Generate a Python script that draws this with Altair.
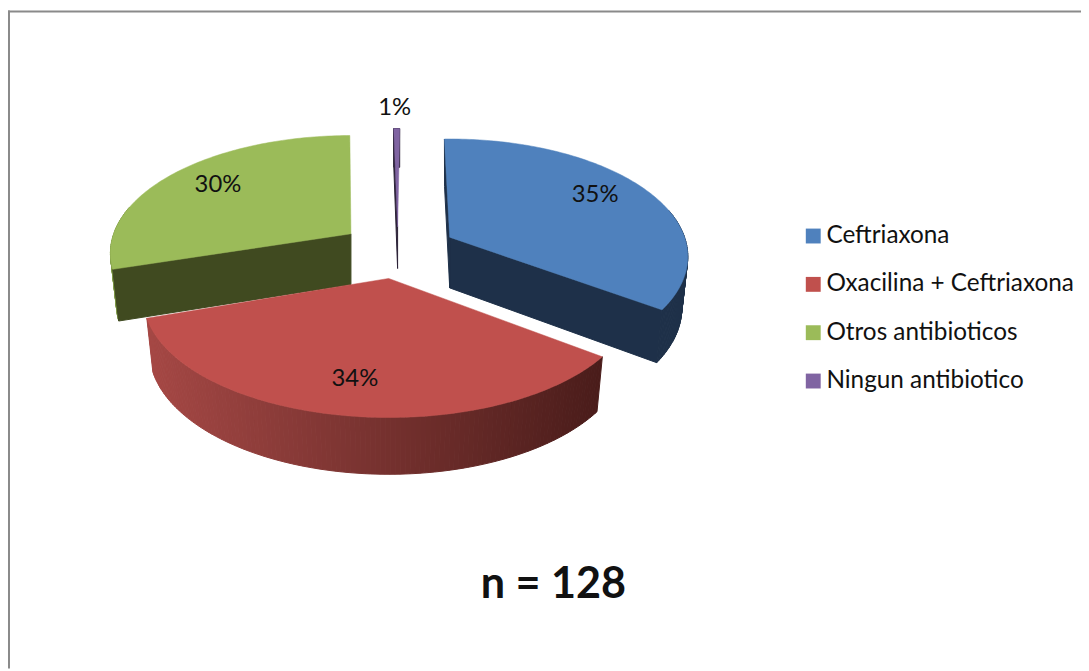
import math
import altair as alt

CATEGORIES = ["Ceftriaxona", "Oxacilina + Ceftriaxona", "Otros antibioticos", "Ningun antibiotico"]
COUNTS = [45, 44, 38, 1]
COLORS = ["#4f81bd", "#c0504d", "#9bbb59", "#8064a2"]
WALL_LEFT = ["#1e3049", "#a54845", "#7f9a48", "#2a2136"]
WALL_RIGHT = ["#1e3049", "#4a1c1a", "#404a20", "#2a2136"]
NOTE = "n = 128"

# layout of the exploded perspective pie, page pixels
W, H = 1081, 663
DX = 3.5
APEX = [(449.5, 236.5), (388, 278), (350, 233), (397, 226)]
ROT = [-1.5, 0.8, 2.5, 1.0]
RX_SCALE = [0.99, 1.02, 1.0, 0.6]
RY_SCALE = [1.0, 1.015, 1.0, 1.0]
LABEL_POS = [(596, 194), (354, 379), (216, 184), (394, 106)]
WALL_H = [51, 53, 51, 42]
A, B, K = 239.0, 115.3, 0.1646
SX, SY = 0.975, 1.03


def rim(t_deg, i):
    t = math.radians(t_deg)
    w = 1 + K * math.cos(t)
    return (RX_SCALE[i] * A * math.sin(t) / w, -RY_SCALE[i] * B * math.cos(t) / w)


total = sum(COUNTS)
walls, tops, labels = [], [], []
acc = 0.0
pid = 0


def add_wall(points, color):
    global pid
    for k, (x, y) in enumerate(points):
        walls.append({"id": pid, "k": k, "x": x, "y": y, "c": color})
    pid += 1


for i, (cat, n) in enumerate(zip(CATEGORIES, COUNTS)):
    t0 = acc / total * 360 + ROT[i]
    t1 = (acc + n) / total * 360 + ROT[i]
    acc += n
    ax, ay = APEX[i]
    steps = max(4, int(t1 - t0))
    ts = [t0 + (t1 - t0) * s / steps for s in range(steps + 1)]
    top = [(ax + rim(t, i)[0], ay + rim(t, i)[1]) for t in ts]
    h = WALL_H[i]
    bottom = [(ax + SX * rim(t, i)[0], ay + h + SY * rim(t, i)[1]) for t in ts]
    xmin = min(p[0] for p in top)
    xmax = max(p[0] for p in top)
    c0 = [int(WALL_LEFT[i][j:j + 2], 16) for j in (1, 3, 5)]
    c1 = [int(WALL_RIGHT[i][j:j + 2], 16) for j in (1, 3, 5)]

    # rim walls, only those facing the viewer
    for s in range(steps):
        if math.cos(math.radians((ts[s] + ts[s + 1]) / 2)) < 0.25 or i == 3:
            u = ((top[s][0] + top[s + 1][0]) / 2 - xmin) / max(xmax - xmin, 1)
            color = "#%02x%02x%02x" % tuple(round(a + (b - a) * u) for a, b in zip(c0, c1))
            add_wall([top[s], top[s + 1], bottom[s + 1], bottom[s]], color)
    # cut walls
    apex_b = (ax, ay + h)
    if i == 0:
        add_wall([(ax, ay), top[steps], bottom[steps], apex_b], WALL_RIGHT[0])
        add_wall([(ax, ay), top[0], bottom[0], apex_b], WALL_RIGHT[0])
    if i >= 2:
        add_wall([(ax, ay), top[0], bottom[0], apex_b], WALL_RIGHT[i])

    poly = [(ax, ay)] + top
    for k, (x, y) in enumerate(poly):
        tops.append({"cat": cat, "k": k, "x": x, "y": y})
    lx, ly = LABEL_POS[i]
    labels.append({"x": lx, "y": ly, "t": f"{round(n / total * 100)}%"})

xs = alt.Scale(domain=[8 - DX, 8 - DX + W], range=[0, W])
ys = alt.Scale(domain=[8, 8 + H], range=[0, H])
X = alt.X("x:Q", scale=xs, axis=None)
Y = alt.Y("y:Q", scale=ys, axis=None)

wall_layer = alt.Chart(alt.Data(values=walls)).mark_line(strokeWidth=1, interpolate="linear-closed").encode(
    x=X, y=Y, order="k:Q", detail="id:N",
    fill=alt.Fill("c:N", scale=None), stroke=alt.Stroke("c:N", scale=None),
)
top_layer = alt.Chart(alt.Data(values=tops)).mark_line(strokeWidth=0.5, interpolate="linear-closed").encode(
    x=X, y=Y, order="k:Q",
    fill=alt.Fill(
        "cat:N",
        scale=alt.Scale(domain=CATEGORIES, range=COLORS),
        sort=CATEGORIES,
        legend=alt.Legend(
            title=None, orient="none", legendX=799, legendY=215,
            symbolType="square", symbolSize=225, symbolStrokeWidth=0,
            labelFont="Lato", labelFontSize=24.5, labelColor="#111111",
            labelOffset=1, rowPadding=23.7, labelLimit=300, padding=0,
        ),
    ),
    stroke=alt.Stroke("cat:N", scale=alt.Scale(domain=CATEGORIES, range=COLORS), legend=None),
)
label_layer = alt.Chart(alt.Data(values=labels)).mark_text(font="Lato", fontSize=24, color="#111111").encode(
    x=X, y=Y, text="t:N"
)
note_layer = alt.Chart(alt.Data(values=[{"t": NOTE}])).mark_text(
    font="Lato", fontSize=43.5, fontWeight="bold", color="#111111"
).encode(x=alt.value(554 - 8 + DX), y=alt.value(587 - 8), text="t:N")
frame_v = alt.Chart(alt.Data(values=[{}])).mark_rule(color="#8a8a8a", strokeWidth=2).encode(
    x=alt.value(1), y=alt.value(0), y2=alt.value(H)
)
frame_h = alt.Chart(alt.Data(values=[{}])).mark_rule(color="#8a8a8a", strokeWidth=2).encode(
    y=alt.value(1), x=alt.value(0), x2=alt.value(W)
)

chart = alt.layer(wall_layer, top_layer, label_layer, note_layer, frame_v, frame_h).properties(
    width=W, height=H, padding=0, autosize=alt.AutoSizeParams(type="none"),
    background="white",
).configure_view(stroke=None)

chart.save("out.html", embed_options={"renderer": "svg", "actions": False})
